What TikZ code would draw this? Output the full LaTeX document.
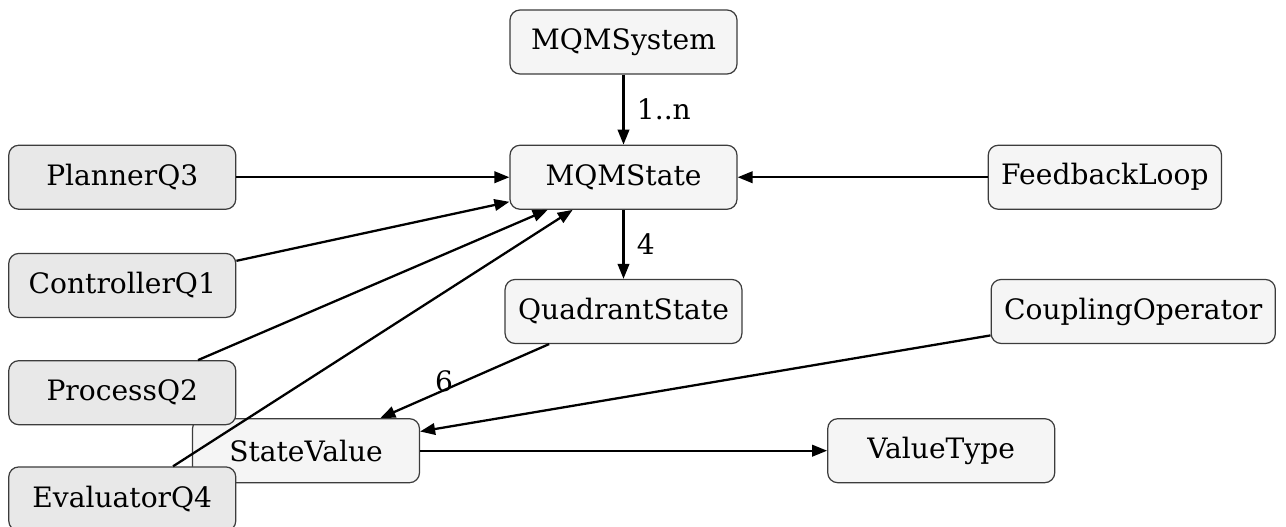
\documentclass[tikz,border=0pt]{standalone}
\usepackage{fontspec}
\setmainfont{DejaVu Serif}
\usepackage{xcolor}
\usetikzlibrary{arrows.meta, positioning, calc}

\definecolor{boxfill}{HTML}{F5F5F5}
\definecolor{quadfill}{HTML}{E8E8E8}
\definecolor{boxline}{HTML}{3C3C3C}

\begin{document}
\begin{tikzpicture}[
        box/.style={
            draw=boxline,
            line width=0.7pt,
            fill=boxfill,
            rounded corners=0.2cm,
            align=center,
            minimum height=1.28cm,
            minimum width=4.54cm,
            inner xsep=0.26cm,
            font=\fontsize{16}{19}\selectfont
        },
        quad/.style={
            box,
            fill=quadfill
        },
        arrow/.style={
            -{Triangle[length=3mm, width=2.3mm]},
            line width=1.3pt
        },
        lbl/.style={
            font=\fontsize{16}{19}\selectfont,
            inner sep=2pt
        }
    ]

    \useasboundingbox (0,0) rectangle (25.72,-10.54);

    % Main column
    \node[box] (system) at (12.47,-0.84) {MQMSystem};
    \node[box, below=1.4cm of system] (state) {MQMState};
    \node[box, below=1.38cm of state] (quadrant) {QuadrantState};

    % State value sits behind the quadrant boxes
    \node[box, below=1.48cm of quadrant, xshift=-6.35cm] (value) {StateValue};
    \node[box, right=8.14cm of value] (valuetype) {ValueType};

    % Quadrants on the left
    \node[quad, left=5.46cm of state] (planner) {PlannerQ3};
    \node[quad, below=0.86cm of planner] (controller) {ControllerQ1};
    \node[quad, below=0.84cm of controller] (process) {ProcessQ2};
    \node[quad, below=0.82cm of process] (evaluator) {EvaluatorQ4};

    % Right side
    \node[box, right=5cm of state] (feedback) {FeedbackLoop};
    \node[box, right=4.96cm of quadrant] (coupling) {CouplingOperator};

    % Arrows
    \draw[arrow] (system) -- node[lbl, right=5pt] {1..n} (state);
    \draw[arrow] (state) -- node[lbl, right=5pt] {4} (quadrant);
    \draw[arrow] (planner) -- (state);
    \draw[arrow] (controller) -- (state);
    \draw[arrow] (process) -- (state);
    \draw[arrow] (evaluator) -- (state);
    \draw[arrow] (feedback) -- (state);
    \draw[arrow] (quadrant) -- node[lbl, left=4pt] {6} (value);
    \draw[arrow] (coupling) -- (value);
    \draw[arrow] (value) -- (valuetype);

\end{tikzpicture}
\end{document}
